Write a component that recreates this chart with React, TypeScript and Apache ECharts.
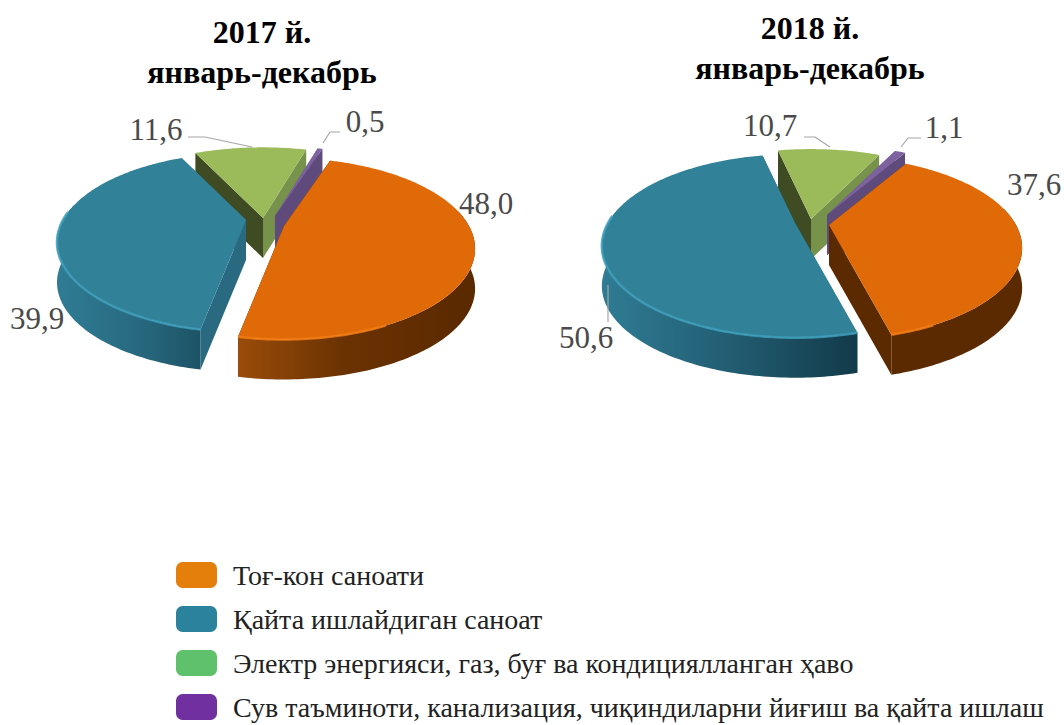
import React, { useEffect, useRef } from "react";
import * as echarts from "echarts";

const categories = [
  "Тоғ-кон саноати",
  "Қайта ишлайдиган саноат",
  "Электр энергияси, газ, буғ ва кондициялланган ҳаво",
  "Сув таъминоти, канализация, чиқиндиларни йиғиш ва қайта ишлаш",
];
const titles = ["2017 й.\nянварь-декабрь", "2018 й.\nянварь-декабрь"];
const mining = [48.0, 37.6];
const manufacturing = [39.9, 50.6];
const energy = [11.6, 10.7];
const water = [0.5, 1.1];
const seriesValues = [mining, manufacturing, energy, water];

// --- drawing layout, separate from the values ---
const startAngles = [18, 30];
const TILT = 0.46;
const PERSPECTIVE = 0.25;
const DEPTH = 40;
const apexes = [
  [[284, 226, 185], [246, 220, 183], [263, 218, 192], [275, 216, 190]],
  [[829, 225, 187], [795, 223, 187], [811, 219, 190], [827, 215, 190]],
];
const topColors = ["#E06A08", "#318298", "#9BBA59", "#7E62A0"];
const startWallColors = ["#5C2A00", "#2A6A80", "#3F4B22", "#5F4B7B"];
const endWallColors = ["#5C2A00", "#2A6A80", "#77924A", "#5F4B7B"];
const legendColors = ["#E57F0B", "#2B829C", "#5FC16C", "#7030A0"];
const rimColors = ["#F47C14", "#3E9DBA", "#A9C866", "#8E72B0"];
const outerWalls = [
  [
    [[0, "#9A4C0A"], [0.45, "#6A3202"], [1, "#5A2900"]],
    [[0, "#2F7C94"], [0.55, "#286A80"], [1, "#1D5366"]],
    [[0, "#77924A"], [1, "#77924A"]],
    [[0, "#5F4B7B"], [1, "#5F4B7B"]],
  ],
  [
    [[0, "#5C2A00"], [1, "#5C2A00"]],
    [[0, "#2F7C94"], [0.5, "#225D72"], [1, "#123A4A"]],
    [[0, "#77924A"], [1, "#77924A"]],
    [[0, "#5F4B7B"], [1, "#5F4B7B"]],
  ],
];
const labelPositions = [
  [[486, 203], [37, 318], [156, 129], [365, 121]],
  [[1034, 184], [586, 337], [770, 125], [944, 127]],
];
const leaderLines = [
  [null, null, [[188, 137], [205, 137], [252, 147]], [[340, 132], [330, 132], [323, 143]]],
  [null, [[608, 285], [608, 322]], [[804, 137], [815, 137], [830, 147]], [[921, 138], [908, 138], [901, 147]]],
];
const LABEL_FONT = '31px "Liberation Serif"';

function projector(ax: number, ay: number, R: number) {
  return (deg: number): [number, number] => {
    const t = (deg * Math.PI) / 180;
    const u = Math.sin(t);
    const v = -Math.cos(t);
    const w = 1 - PERSPECTIVE * v;
    return [ax + (R * u) / w, ay + (R * TILT * v) / w];
  };
}

function sliceRenderer(cat: number) {
  return (params: any, api: any) => {
    const pie = params.dataIndex;
    const value = api.value(0);
    let before = 0;
    let total = 0;
    seriesValues.forEach((arr, i) => {
      total += arr[pie];
      if (i < cat) before += arr[pie];
    });
    const a0 = startAngles[pie] + (before / total) * 360;
    const a1 = a0 + (value / total) * 360;
    const [ax, ay, R] = apexes[pie][cat];
    const p = projector(ax, ay, R);
    const rim: [number, number][] = [];
    const n = Math.max(6, Math.ceil(a1 - a0));
    for (let i = 0; i <= n; i++) rim.push(p(a0 + ((a1 - a0) * i) / n));
    const down = (q: number[]) => [q[0], q[1] + DEPTH];
    const first = rim[0];
    const last = rim[rim.length - 1];
    const children: any[] = [];
    children.push({
      type: "polygon",
      shape: { points: [[ax, ay], first, down(first), down([ax, ay])] },
      style: { fill: startWallColors[cat] },
      z2: 1,
    });
    children.push({
      type: "polygon",
      shape: { points: [[ax, ay], last, down(last), down([ax, ay])] },
      style: { fill: endWallColors[cat] },
      z2: 1,
    });
    // outer wall: only the part of the rim that faces the viewer
    const front: [number, number][] = [];
    for (let i = 0; i <= n; i++) {
      const d = a0 + ((a1 - a0) * i) / n;
      const c = Math.cos((d * Math.PI) / 180);
      if (c < 0.2) front.push(rim[i]);
    }
    if (front.length > 1) {
      children.push({
        type: "polygon",
        shape: { points: [...front, ...front.map(down).reverse()] },
        style: {
          fill: new echarts.graphic.LinearGradient(
            0, 0, 1, 0,
            outerWalls[pie][cat].map((s: any) => ({ offset: s[0], color: s[1] })),
          ),
        },
        z2: 2,
      });
    }
    children.push({
      type: "polygon",
      shape: { points: [[ax, ay], ...rim] },
      style: { fill: topColors[cat] },
      z2: 3,
    });
    // bevel highlight on the near rim
    const bevel = rim.filter((_, i) => {
      const d = a0 + ((a1 - a0) * i) / n;
      const t = (d * Math.PI) / 180;
      return cat === 0
        ? Math.cos(t) < -0.9 && Math.sin(t) < 0.55
        : cat === 1
        ? Math.cos(t) < 0.1
        : false;
    });
    if (bevel.length > 1) {
      children.push({
        type: "polyline",
        shape: { points: bevel },
        style: { stroke: rimColors[cat], lineWidth: 2.5, fill: "none", opacity: 0.85 },
        z2: 4,
      });
    }
    const line = leaderLines[pie][cat];
    if (line) {
      children.push({
        type: "polyline",
        shape: { points: line },
        style: { stroke: "#A6A6A6", lineWidth: 1.2, fill: "none" },
        z2: 5,
      });
    }
    const [lx, ly] = labelPositions[pie][cat];
    children.push({
      type: "text",
      style: {
        text: value.toFixed(1).replace(".", ","),
        x: lx,
        y: ly,
        font: LABEL_FONT,
        fill: "#4A4A4A",
        textAlign: "center",
        textVerticalAlign: "middle",
      },
      z2: 6,
    });
    return { type: "group", children };
  };
}

export default function App() {
  const ref = useRef<HTMLDivElement>(null);
  useEffect(() => {
    document.body.style.margin = "0";
    const chart = echarts.init(ref.current!, undefined, { renderer: "svg" });
    chart.setOption({
      animation: false,
      backgroundColor: "#fff",
      title: [
        { text: titles[0], left: 262, top: 12, textAlign: "center" },
        { text: titles[1], left: 810, top: 8, textAlign: "center" },
      ].map((t) => ({
        ...t,
        padding: 0,
        textStyle: {
          fontFamily: "Liberation Serif",
          fontWeight: "bold",
          fontSize: 32,
          lineHeight: 40,
          color: "#000",
        },
      })),
      legend: {
        orient: "vertical",
        left: 176,
        top: 561,
        padding: 0,
        height: 400,
        itemWidth: 41,
        itemHeight: 26,
        itemGap: 16,
        icon: "roundRect",
        data: categories.map((name, i) => ({ name, itemStyle: { color: legendColors[i] } })),
        textStyle: {
          fontFamily: "Liberation Serif",
          fontSize: 28,
          color: "#222",
          padding: [0, 0, 0, 11],
        },
      },
      series: categories.map((name, i) => ({
        type: "custom",
        name,
        coordinateSystem: "none",
        z: [5, 4, 2, 3][i],
        itemStyle: { color: legendColors[i] },
        data: seriesValues[i],
        renderItem: sliceRenderer(i),
      })),
    });
    return () => chart.dispose();
  }, []);
  return <div ref={ref} style={{ position: "absolute", left: 0, top: 0, width: 1064, height: 725 }} />;
}
